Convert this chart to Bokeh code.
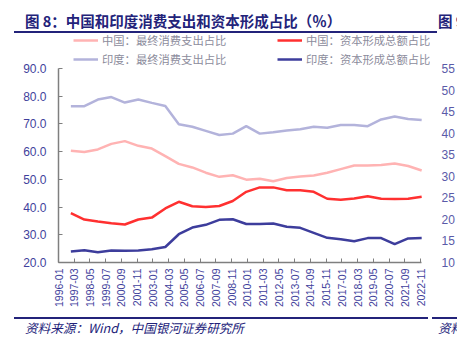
import math
from bokeh.plotting import figure
from bokeh.models import (Range1d, LinearAxis, FixedTicker, NumeralTickFormatter,
                          Legend, LegendItem, Div)
from bokeh.layouts import column
from bokeh.embed import file_html
from bokeh.resources import INLINE

# ---------------- data ----------------
years = list(range(1996, 2023))
china_consumption = [60.3, 59.9, 60.8, 62.8, 63.8, 62.1, 61.1, 58.4, 55.6, 54.3,
                     52.4, 50.9, 51.5, 49.9, 50.2, 49.3, 50.5, 51.0, 51.4, 52.4,
                     53.7, 55.0, 55.0, 55.2, 55.7, 54.8, 53.2]
china_capital = [37.8, 35.5, 34.8, 34.2, 33.7, 35.5, 36.2, 39.5, 41.9, 40.3,
                 40.0, 40.4, 42.2, 45.5, 47.1, 47.1, 46.1, 46.1, 45.5, 43.0,
                 42.6, 43.1, 43.9, 43.0, 42.9, 43.0, 43.7]
india_consumption = [76.4, 76.4, 78.8, 79.7, 77.7, 78.8, 77.6, 76.5, 69.9, 69.0,
                     67.5, 66.0, 66.5, 69.2, 66.5, 67.0, 67.6, 68.1, 69.0, 68.6,
                     69.6, 69.6, 69.2, 71.6, 72.7, 71.8, 71.4]
india_capital = [24.0, 24.4, 23.7, 24.3, 24.2, 24.3, 24.8, 25.6, 30.2, 32.6,
                 33.6, 35.4, 35.6, 33.9, 33.9, 34.1, 32.9, 32.5, 30.7, 28.9,
                 28.4, 27.7, 28.8, 28.8, 26.6, 28.7, 28.8]
tick_labels = ["1996-01", "1997-03", "1998-05", "1999-07", "2000-09", "2001-11",
               "2003-01", "2004-03", "2005-05", "2006-07", "2007-09", "2008-11",
               "2010-01", "2011-03", "2012-05", "2013-07", "2014-09", "2015-11",
               "2017-01", "2018-03", "2019-05", "2020-07", "2021-09", "2022-11"]
left_ticks = [20, 30, 40, 50, 60, 70, 80, 90]
right_ticks = [10, 15, 20, 25, 30, 35, 40, 45, 50, 55]
series_names = ["中国：最终消费支出占比", "中国：资本形成总额占比",
                "印度：最终消费支出占比", "印度：资本形成总额占比"]
title_text = "图 8：中国和印度消费支出和资本形成占比（％）"
source_text = "资料来源：Wind，中国银河证券研究所"

# month index since 1996-01 (annual values at December)
xs = [(y - 1996) * 12 + 11 for y in years]
tick_pos = [(int(s[:4]) - 1996) * 12 + int(s[5:]) - 1 for s in tick_labels]

CJK = "Noto Sans CJK SC"
NUM = "Liberation Sans"
NAVY = "#23237a"
TICKC = "#3f3f9c"

FIG_W, FIG_H = 457, 283
BORDER_L, BORDER_R, BORDER_B = 58, 20, 54
AXIS_PX_Y = 194          # pixel height of the axis part of the frame
AXIS_PX_X = 370          # pixel width of the axis part of the frame
X_END = 323
frame_h = FIG_H - BORDER_B
frame_w = FIG_W - BORDER_L - BORDER_R
left_top = left_ticks[0] + (left_ticks[-1] - left_ticks[0]) * frame_h / AXIS_PX_Y
right_top = right_ticks[0] + (right_ticks[-1] - right_ticks[0]) * frame_h / AXIS_PX_Y
x_top = X_END * frame_w / AXIS_PX_X

p = figure(width=FIG_W, height=FIG_H, output_backend="svg", toolbar_location=None,
           x_range=Range1d(0, x_top), y_range=Range1d(left_ticks[0], left_top),
           min_border_left=BORDER_L, min_border_right=BORDER_R, min_border_top=0,
           min_border_bottom=BORDER_B, margin=0)
p.outline_line_color = None
p.grid.grid_line_color = None
p.background_fill_color = "white"
p.border_fill_color = "white"

# lines
c1 = p.line(xs, china_consumption, line_color="#ffb3b3", line_width=2.5)
c2 = p.line(xs, china_capital, line_color="#ff3030", line_width=2.5)
c3 = p.line(xs, india_consumption, line_color="#b3b3db", line_width=2.5)
c4 = p.line(xs, india_capital, line_color="#3d3d9c", line_width=2.5)

# x axis
xa = p.xaxis[0]
xa.ticker = FixedTicker(ticks=tick_pos)
xa.bounds = (0, X_END)
xa.major_label_overrides = {t: l for t, l in zip(tick_pos, tick_labels)}
xa.major_label_orientation = math.pi / 2
xa.major_label_text_font = NUM
xa.major_label_text_font_size = "10.5px"
xa.major_label_text_color = TICKC
xa.major_tick_in = 4
xa.major_tick_out = 0
xa.minor_tick_line_color = None
xa.major_tick_line_color = "#7f7f7f"
xa.axis_line_color = "#7f7f7f"
xa.axis_line_width = 1.5
xa.major_label_standoff = 6

# left axis
ya = p.yaxis[0]
ya.ticker = FixedTicker(ticks=left_ticks)
ya.bounds = (left_ticks[0], left_ticks[-1])
ya.formatter = NumeralTickFormatter(format="0.0")
ya.major_label_text_font = NUM
ya.major_label_text_font_size = "12px"
ya.major_label_text_color = TICKC
ya.major_tick_in = 4
ya.major_tick_out = 0
ya.minor_tick_line_color = None
ya.major_tick_line_color = "#7f7f7f"
ya.axis_line_color = "#7f7f7f"
ya.axis_line_width = 1.5
ya.major_label_standoff = 12

# right axis
p.extra_y_ranges = {"right": Range1d(right_ticks[0], right_top)}
ra = LinearAxis(y_range_name="right", ticker=FixedTicker(ticks=right_ticks),
                bounds=(right_ticks[0], right_ticks[-1]))
ra.axis_line_color = None
ra.major_tick_line_color = None
ra.minor_tick_line_color = None
ra.major_label_text_font = NUM
ra.major_label_text_font_size = "12px"
ra.major_label_text_color = "#5a5aa8"
ra.major_label_standoff = 5
p.add_layout(ra, "right")

# legend: two columns at the top of the frame
for items, xloc in (([(series_names[0], c1), (series_names[2], c3)], 15),
                    ([(series_names[1], c2), (series_names[3], c4)], 219)):
    lg = Legend(items=[LegendItem(label=n, renderers=[r]) for n, r in items],
                location=(xloc, frame_h - 34), orientation="vertical",
                glyph_width=25, glyph_height=16, label_height=16,
                label_standoff=4, spacing=3, padding=0, margin=0,
                border_line_color=None, background_fill_alpha=0,
                label_text_font=CJK, label_text_font_size="11.3px",
                label_text_color="#8c8c9c")
    p.add_layout(lg, "center")

title_style = (f"position:absolute;top:12px;white-space:nowrap;font-family:'{CJK}';"
               f"font-size:14.5px;font-weight:bold;line-height:18px;color:{NAVY};")
foot_style = (f"position:absolute;top:4px;white-space:nowrap;font-family:'{CJK}';"
              f"font-size:12.6px;font-style:italic;line-height:16px;color:{NAVY};")
title_html = (
    '<div style="position:relative;width:457px;height:33px;overflow:hidden;">'
    f'<span style="left:25px;{title_style}">{title_text}</span>'
    f'<span style="left:438px;{title_style}">图 9</span>'
    f'<div style="position:absolute;left:14px;top:31px;width:423px;height:0;'
    f'border-top:2px solid {NAVY};"></div>'
    '</div>')
footer_html = (
    '<div style="position:relative;width:457px;height:26px;overflow:hidden;">'
    f'<div style="position:absolute;left:14px;top:1px;width:414px;height:0;'
    f'border-top:2px solid {NAVY};"></div>'
    f'<div style="position:absolute;left:432px;top:1px;width:25px;height:0;'
    f'border-top:2px solid {NAVY};"></div>'
    f'<span style="left:25px;{foot_style}">{source_text}</span>'
    f'<span style="left:438px;{foot_style}">资料</span>'
    '</div>')

title_div = Div(text=title_html, width=457, height=33, margin=0)
footer_div = Div(text=footer_html, width=457, height=26, margin=0)

layout = column(title_div, p, footer_div, spacing=0, margin=0)
open("out.html", "w").write(file_html(layout, INLINE))
